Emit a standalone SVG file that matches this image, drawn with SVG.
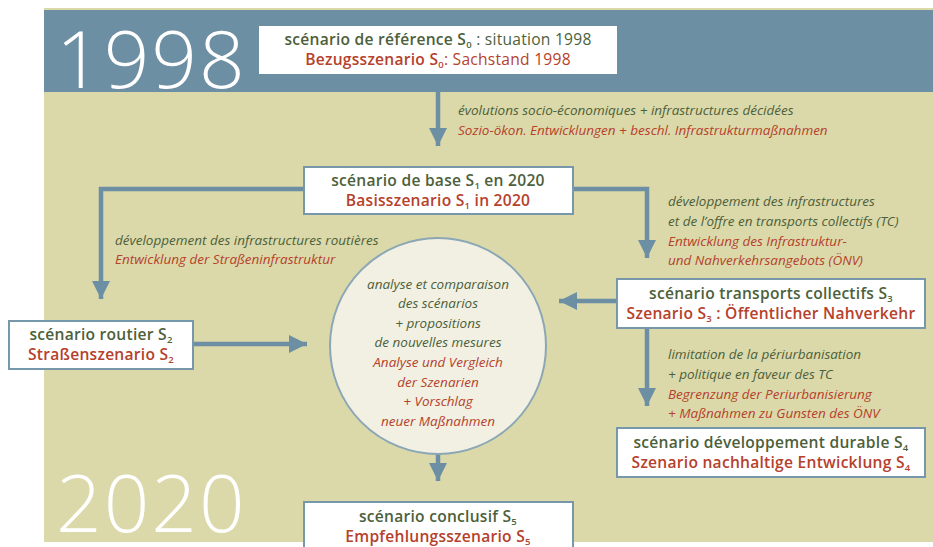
<svg xmlns="http://www.w3.org/2000/svg" width="933" height="547" viewBox="0 0 933 547">
<defs>
<style>
.g{fill:#4d5f3b}
.r{fill:#b5412c}
.b{font-family:"Open Sans","DejaVu Sans",sans-serif;font-weight:600;font-size:15.6px;letter-spacing:0.25px;text-anchor:middle}
.n{font-weight:400}
.s{font-size:9.5px}
.i{font-family:"Open Sans","DejaVu Sans",sans-serif;font-style:italic;font-size:13.5px}
.c{text-anchor:middle}
.box{fill:#ffffff;stroke:#7797aa;stroke-width:2}
.con{fill:none;stroke:#6d8fa4;stroke-width:4.5}
.yr{font-family:"Open Sans","DejaVu Sans",sans-serif;font-weight:300;fill:#ffffff;font-size:80px;letter-spacing:2px}
</style>
<marker id="ah" viewBox="0 0 10 10" refX="10" refY="5" markerWidth="4.6" markerHeight="4" orient="auto" markerUnits="strokeWidth">
<path d="M0,0 L10,5 L0,10 z" fill="#6d8fa4"/>
</marker>
</defs>
<rect x="0" y="0" width="933" height="547" fill="#ffffff"/>
<rect x="44" y="8" width="889" height="534" fill="#dbd9a9"/>
<rect x="44" y="10" width="889" height="82" fill="#6d8fa3"/>
<text class="yr" x="56" y="88">1998</text>
<text class="yr" x="56" y="532">2020</text>

<g id="connectors">
<path class="con" d="M438,92 V146" marker-end="url(#ah)"/>
<path class="con" d="M304,189 H101 V299" marker-end="url(#ah)"/>
<path class="con" d="M573,189 H647 V258" marker-end="url(#ah)"/>
<path class="con" d="M193,344 H307" marker-end="url(#ah)"/>
<path class="con" d="M617,301 H559" marker-end="url(#ah)"/>
<path class="con" d="M647,329 V406" marker-end="url(#ah)"/>
<path class="con" d="M438,454 V481" marker-end="url(#ah)"/>
</g>

<g id="labels">
<text class="i g" x="458" y="115">évolutions socio-économiques + infrastructures décidées</text>
<text class="i r" x="458" y="135">Sozio-ökon. Entwicklungen + beschl. Infrastrukturmaßnahmen</text>
<text class="i g" x="115" y="245">développement des infrastructures routières</text>
<text class="i r" x="115" y="264">Entwicklung der Straßeninfrastruktur</text>
<text class="i g" x="668" y="206">développement des infrastructures</text>
<text class="i g" x="668" y="226">et de l’offre en transports collectifs (TC)</text>
<text class="i r" x="668" y="246">Entwicklung des Infrastruktur-</text>
<text class="i r" x="668" y="265">und Nahverkehrsangebots (ÖNV)</text>
<text class="i g" x="668" y="359">limitation de la périurbanisation</text>
<text class="i g" x="668" y="379">+ politique en faveur des TC</text>
<text class="i r" x="668" y="399">Begrenzung der Periurbanisierung</text>
<text class="i r" x="668" y="418">+ Maßnahmen zu Gunsten des ÖNV</text>
</g>

<g id="s0">
<rect x="259" y="26" width="358" height="48" fill="#ffffff"/>
<text class="b g" x="438" y="45">scénario de référence S<tspan class="s" dy="2.5">0</tspan><tspan class="n" dy="-2.5"> : situation 1998</tspan></text>
<text class="b r" x="438" y="65">Bezugsszenario S<tspan class="s" dy="2.5">0</tspan><tspan class="n" dy="-2.5">: Sachstand 1998</tspan></text>
</g>

<g id="s1">
<rect class="box" x="304" y="167" width="269" height="47"/>
<text class="b g" x="438" y="186">scénario de base S<tspan class="s" dy="2.5">1</tspan><tspan dy="-2.5"> en 2020</tspan></text>
<text class="b r" x="438" y="206">Basisszenario S<tspan class="s" dy="2.5">1</tspan><tspan dy="-2.5"> in 2020</tspan></text>
</g>

<g id="s2">
<rect class="box" x="9" y="321" width="184" height="48"/>
<text class="b g" x="101" y="340">scénario routier S<tspan class="s" dy="2.5">2</tspan></text>
<text class="b r" x="101" y="360">Straßenszenario S<tspan class="s" dy="2.5">2</tspan></text>
</g>

<g id="s3">
<rect class="box" x="617" y="279" width="308" height="49"/>
<text class="b g" x="771" y="299">scénario transports collectifs S<tspan class="s" dy="2.5">3</tspan></text>
<text class="b r" x="771" y="319">Szenario S<tspan class="s" dy="2.5">3</tspan><tspan dy="-2.5"> : Öffentlicher Nahverkehr</tspan></text>
</g>

<g id="s4">
<rect class="box" x="617" y="428" width="308" height="49"/>
<text class="b g" x="771" y="448">scénario développement durable S<tspan class="s" dy="2.5">4</tspan></text>
<text class="b r" x="771" y="468">Szenario nachhaltige Entwicklung S<tspan class="s" dy="2.5">4</tspan></text>
</g>

<g id="s5">
<rect class="box" x="304" y="502" width="269" height="50"/>
<text class="b g" x="438" y="522">scénario conclusif S<tspan class="s" dy="2.5">5</tspan></text>
<text class="b r" x="438" y="542">Empfehlungsszenario S<tspan class="s" dy="2.5">5</tspan></text>
</g>

<g id="analyse">
<circle cx="438" cy="346" r="108" fill="#f1f0e2" stroke="#8ba6b5" stroke-width="2"/>
<text class="i g c" x="438" y="289">analyse et comparaison</text>
<text class="i g c" x="438" y="308">des scénarios</text>
<text class="i g c" x="438" y="328">+ propositions</text>
<text class="i g c" x="438" y="347">de nouvelles mesures</text>
<text class="i r c" x="438" y="367">Analyse und Vergleich</text>
<text class="i r c" x="438" y="387">der Szenarien</text>
<text class="i r c" x="438" y="406">+ Vorschlag</text>
<text class="i r c" x="438" y="426">neuer Maßnahmen</text>
</g>
</svg>
